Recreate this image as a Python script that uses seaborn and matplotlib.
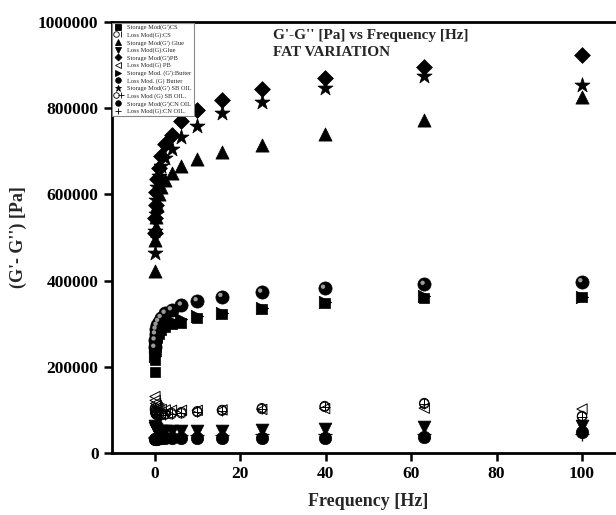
import numpy as np
import pandas as pd
import matplotlib
matplotlib.use("Agg")
import matplotlib.pyplot as plt
import matplotlib.transforms as mtransforms
from matplotlib.lines import Line2D
from matplotlib.legend_handler import HandlerTuple
import seaborn as sns

# frequency sweep (Hz), 5 points per decade
freq = [0.1, 0.158, 0.251, 0.398, 0.631, 1.0, 1.58, 2.51, 3.98, 6.31, 10.0, 15.8, 25.1, 39.8, 63.1, 100.0]

# storage moduli G' [Pa]
storage_cs = [187000, 216000, 238000, 254000, 266000, 277000, 286000, 292000, 299000, 302000, 314000, 322000, 333000, 347000, 359000, 363000]
storage_glue = [423000, 494000, 525000, 548000, 575000, 600000, 618000, 633000, 650000, 666000, 681000, 699000, 715000, 740000, 773000, 827000]
storage_pb = [510000, 545000, 575000, 605000, 635000, 662000, 690000, 717000, 738000, 770000, 796000, 819000, 844000, 869000, 896000, 923000]
storage_butter = [225000, 245000, 260000, 272000, 281000, 289000, 297000, 302000, 306000, 310000, 317000, 325000, 337000, 350000, 365000, 363000]
storage_sb = [465000, 515000, 555000, 588000, 618000, 643000, 665000, 685000, 705000, 734000, 759000, 788000, 815000, 848000, 875000, 854000]
storage_cn = [245000, 262000, 276000, 287000, 296000, 305000, 314000, 324000, 332000, 343000, 353000, 363000, 373000, 382000, 391000, 397000]

# loss moduli G'' [Pa]
loss_cs = [104000, 97000, 93000, 90000, 89000, 89000, 90000, 91000, 93000, 95000, 97000, 100000, 104000, 109000, 116000, 86000]
loss_glue = [62000, 58000, 55000, 53000, 52000, 51000, 50000, 50000, 50000, 51000, 51000, 52000, 53000, 55000, 61000, 62000]
loss_pb = [131000, 122000, 115000, 110000, 106000, 103000, 101000, 100000, 99000, 99000, 99000, 100000, 101000, 103000, 104000, 102000]
loss_butter = [32000, 32000, 33000, 33000, 33000, 34000, 34000, 34000, 34000, 35000, 35000, 35000, 35000, 34000, 36000, 49000]
loss_sb = [100000, 95000, 91000, 89000, 88000, 88000, 88000, 89000, 90000, 92000, 95000, 98000, 102000, 107000, 114000, 84000]
loss_cn = [35000, 36000, 37000, 38000, 38000, 39000, 39000, 40000, 40000, 41000, 42000, 42000, 43000, 44000, 45000, 44000]

labels = ["Storage Mod(G')CS", "Loss Mod(G):CS", "Storage Mod(G') Glue", "Loss Mod(G):Glue",
          "Storage Mod(G')PB", "Loss Mod(G) PB", "Storage Mod. (G'):Butter", "Loss Mod. (G) Butter",
          "Storage Mod(G') SB OIL", "Loss Mod (G) SB OIL.", "Storage Mod(G')CN OIL", "Loss Mod(G):CN OIL."]

sns.set_theme(style="ticks")
plt.rcParams['font.family'] = ['Liberation Serif', 'DejaVu Serif']
plt.rcParams['font.weight'] = 'bold'

fig = plt.figure(figsize=(6.16, 5.15), dpi=100)
ax = fig.add_axes([111.75 / 616, 62 / 515, 513 / 616, 431 / 515])

k = dict(color='black', edgecolor='black', linewidth=0.5, legend=False, ax=ax, zorder=3)
hollow = dict(facecolors='none', edgecolors='black', linewidth=0.7, legend=False, ax=ax, zorder=4)

# loss moduli first (bottom cluster)
sns.scatterplot(x=freq, y=loss_pb, marker='<', s=55, **hollow)
sns.scatterplot(x=freq, y=loss_cs, marker='o', s=45, **hollow)
sns.scatterplot(x=freq, y=loss_cs, marker='|', s=60, color='black', linewidth=0.7, legend=False, ax=ax, zorder=4)
sns.scatterplot(x=freq, y=loss_sb, marker='o', s=45, **hollow)
sns.scatterplot(x=freq, y=loss_sb, marker='+', s=60, color='black', linewidth=0.7, legend=False, ax=ax, zorder=4)
sns.scatterplot(x=freq, y=loss_glue, marker='v', s=85, **k)
sns.scatterplot(x=freq, y=loss_butter, marker='o', s=80, **k)
sns.scatterplot(x=freq, y=loss_cn, marker='+', s=90, color='black', linewidth=0.9, legend=False, ax=ax, zorder=4)

# storage moduli
sns.scatterplot(x=freq, y=storage_butter, marker='>', s=80, **k)
sns.scatterplot(x=freq, y=storage_cs, marker='s', s=60, **k)
sns.scatterplot(x=freq, y=storage_cn, marker='o', s=90, **k)
hl = mtransforms.offset_copy(ax.transData, fig=fig, x=-1.2, y=1.2, units='points')
ax.scatter(freq, storage_cn, marker='o', s=10, color='#9a9a9a', edgecolor='none', transform=hl, zorder=4)
sns.scatterplot(x=freq, y=storage_glue, marker='^', s=90, **k)
sns.scatterplot(x=freq, y=storage_sb, marker='*', s=130, **k)
sns.scatterplot(x=freq, y=storage_pb, marker='D', s=65, **k)

ax.set_xlim(-10, 110)
ax.set_ylim(0, 1000000)
ax.set_xticks([0, 20, 40, 60, 80, 100])
ax.set_yticks([0, 200000, 400000, 600000, 800000, 1000000])
ax.ticklabel_format(axis='y', style='plain')
ax.tick_params(axis='both', direction='out', length=6, width=1.8, labelsize=12.5, colors='black')
for lab in ax.get_xticklabels() + ax.get_yticklabels():
    lab.set_fontweight('bold')
for sp in ax.spines.values():
    sp.set_linewidth(2.0)
    sp.set_color('black')
ax.set_xlabel('Frequency [Hz]', fontsize=13, fontweight='bold', labelpad=8)
ax.set_ylabel("(G'- G'') [Pa]", fontsize=13, fontweight='bold', labelpad=8)

ax.text(273 / 616, 1 - 35 / 515, "G'-G'' [Pa] vs Frequency [Hz]", transform=fig.transFigure,
        fontsize=11, fontweight='bold', va='center', ha='left')
ax.text(273 / 616, 1 - 53 / 515, "FAT VARIATION", transform=fig.transFigure,
        fontsize=11, fontweight='bold', va='center', ha='left')

def mk(m, fill=True, ms=4):
    return Line2D([], [], linestyle='none', marker=m, markersize=ms, color='black',
                  markerfacecolor='black' if fill else 'none', markeredgewidth=0.6)

handles = [mk('s'), (mk('o', False), mk('|')), mk('^'), mk('v'), mk('D', ms=3.5), mk('<', False),
           mk('>'), mk('o'), mk('*', ms=5), (mk('o', False), mk('+')), mk('o'), mk('+')]
leg = ax.legend(handles, labels, loc='upper left', bbox_to_anchor=(0.0, 1.0), borderaxespad=0.1,
                handler_map={tuple: HandlerTuple(ndivide=None)},
                prop={'family': 'Liberation Serif', 'size': 4.6, 'weight': 'normal'},
                frameon=True, fancybox=False, edgecolor='#888888', framealpha=1,
                handlelength=1.2, handletextpad=0.8, labelspacing=0.28, borderpad=0.3)
leg.get_frame().set_linewidth(0.8)

fig.savefig('out.png', dpi=100)
